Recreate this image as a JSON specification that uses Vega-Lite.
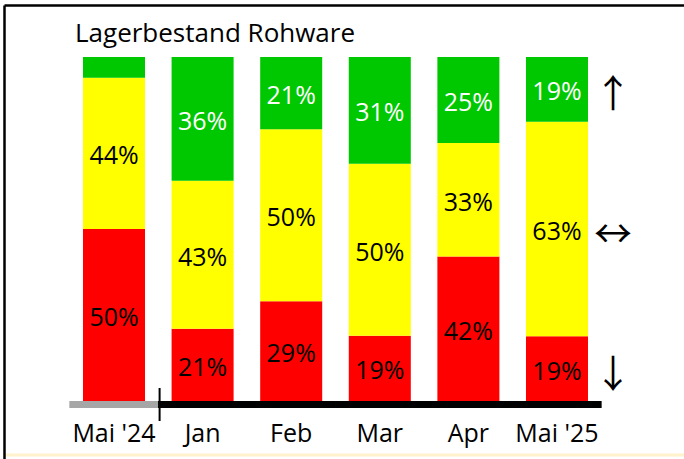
{
  "$schema": "https://vega.github.io/schema/vega-lite/v6.json",
  "width": 680,
  "height": 454,
  "autosize": {"type": "none"},
  "padding": {"left": 4, "top": 5, "right": 0, "bottom": 0},
  "background": "white",
  "config": {"view": {"stroke": null}, "font": "Open Sans"},
  "title": {
    "text": "Lagerbestand Rohware",
    "anchor": "start",
    "frame": "group",
    "dx": 71,
    "offset": -63,
    "baseline": "alphabetic",
    "fontSize": 26,
    "fontWeight": "normal",
    "font": "Open Sans",
    "color": "black"
  },
  "datasets": {
    "bestand": [
      {"monat": "Mai '24", "stufe": "rot", "wert": 50},
      {"monat": "Mai '24", "stufe": "gelb", "wert": 44},
      {"monat": "Mai '24", "stufe": "grün", "wert": 6},
      {"monat": "Jan", "stufe": "rot", "wert": 21},
      {"monat": "Jan", "stufe": "gelb", "wert": 43},
      {"monat": "Jan", "stufe": "grün", "wert": 36},
      {"monat": "Feb", "stufe": "rot", "wert": 29},
      {"monat": "Feb", "stufe": "gelb", "wert": 50},
      {"monat": "Feb", "stufe": "grün", "wert": 21},
      {"monat": "Mar", "stufe": "rot", "wert": 19},
      {"monat": "Mar", "stufe": "gelb", "wert": 50},
      {"monat": "Mar", "stufe": "grün", "wert": 31},
      {"monat": "Apr", "stufe": "rot", "wert": 42},
      {"monat": "Apr", "stufe": "gelb", "wert": 33},
      {"monat": "Apr", "stufe": "grün", "wert": 25},
      {"monat": "Mai '25", "stufe": "rot", "wert": 19},
      {"monat": "Mai '25", "stufe": "gelb", "wert": 63},
      {"monat": "Mai '25", "stufe": "grün", "wert": 19}
    ]
  },
  "data": {"name": "bestand"},
  "transform": [
    {"calculate": "datum.stufe === 'rot' ? 0 : (datum.stufe === 'gelb' ? 1 : 2)", "as": "rang"}
  ],
  "resolve": {"axis": {"x": "independent"}},
  "layer": [
    {
      "mark": {"type": "bar", "opacity": 1},
      "encoding": {
        "x": {
          "field": "monat", "type": "nominal",
          "scale": {"domain": ["Mai '24", "Jan", "Feb", "Mar", "Apr", "Mai '25"], "paddingInner": 0.3, "paddingOuter": 0.9876, "align": 0.4514, "round": false},
          "axis": {"orient": "bottom", "offset": -4.5, "domain": true, "domainColor": "#FFF2CC", "domainWidth": 3, "ticks": false, "grid": false, "labelPadding": -13, "labelBaseline": "alphabetic", "labelFontSize": 25, "labelFont": "Open Sans", "labelColor": "black", "labelAngle": 0, "title": null}
        },
        "y": {
          "field": "wert", "type": "quantitative", "stack": "normalize",
          "scale": {"domain": [-0.1686, 1.1512], "nice": false, "zero": false},
          "axis": {"orient": "left", "domain": true, "domainColor": "black", "domainWidth": 2.5, "labels": false, "ticks": false, "grid": false, "title": null}
        },
        "order": {"field": "rang", "type": "quantitative"},
        "color": {
          "field": "stufe", "type": "nominal",
          "scale": {"domain": ["rot", "gelb", "grün"], "range": ["#FF0000", "#FFFF00", "#00C800"]},
          "legend": null
        }
      }
    },
    {
      "transform": [{"calculate": "datum.wert + '%'", "as": "beschriftung"}],
      "mark": {"type": "text", "fontSize": 25, "font": "Open Sans", "baseline": "middle", "align": "center", "dy": 3},
      "encoding": {
        "x": {"field": "monat", "type": "nominal", "scale": {"domain": ["Mai '24", "Jan", "Feb", "Mar", "Apr", "Mai '25"], "paddingInner": 0.3, "paddingOuter": 0.9876, "align": 0.4514, "round": false}, "axis": null},
        "y": {"field": "wert", "type": "quantitative", "stack": "normalize", "bandPosition": 0.5, "scale": {"domain": [-0.1686, 1.1512], "nice": false, "zero": false},
          "axis": {"orient": "left", "domain": true, "domainColor": "black", "domainWidth": 2.5, "labels": false, "ticks": false, "grid": false, "title": null}},
        "order": {"field": "rang", "type": "quantitative"},
        "text": {"condition": {"test": "datum.wert < 10", "value": ""}, "field": "beschriftung", "type": "nominal"},
        "color": {"condition": {"test": "datum.stufe === 'grün'", "value": "white"}, "value": "black"}
      }
    },
    {
      "transform": [
        {"filter": "datum.monat === \"Mai '25\""},
        {"calculate": "datum.stufe === 'rot' ? '↓' : (datum.stufe === 'gelb' ? '↔' : '↑')", "as": "pfeil"}
      ],
      "mark": {"type": "text", "fontSize": 38, "font": "Noto Sans CJK JP", "baseline": "middle", "align": "center", "dx": 56, "dy": 7, "color": "black"},
      "encoding": {
        "x": {"field": "monat", "type": "nominal", "scale": {"domain": ["Mai '24", "Jan", "Feb", "Mar", "Apr", "Mai '25"], "paddingInner": 0.3, "paddingOuter": 0.9876, "align": 0.4514, "round": false}, "axis": null},
        "y": {"field": "wert", "type": "quantitative", "stack": "normalize", "bandPosition": 0.5, "scale": {"domain": [-0.1686, 1.1512], "nice": false, "zero": false},
          "axis": {"orient": "left", "domain": true, "domainColor": "black", "domainWidth": 2.5, "labels": false, "ticks": false, "grid": false, "title": null}},
        "order": {"field": "rang", "type": "quantitative"},
        "text": {"field": "pfeil", "type": "nominal"}
      }
    },
    {
      "mark": {"type": "tick", "orient": "horizontal", "size": 88.6, "thickness": 7, "yOffset": 3.5, "opacity": 1},
      "encoding": {
        "x": {
          "field": "monat", "type": "nominal",
          "scale": {"domain": ["Mai '24", "Jan", "Feb", "Mar", "Apr", "Mai '25"], "paddingInner": 0.3, "paddingOuter": 0.9876, "align": 0.4514, "round": false},
          "axis": {"orient": "top", "domain": true, "domainColor": "black", "domainWidth": 2.5, "labels": false, "ticks": false, "grid": false, "title": null}
        },
        "y": {"datum": 0, "type": "quantitative", "scale": {"domain": [-0.1686, 1.1512], "nice": false, "zero": false},
          "axis": {"orient": "left", "domain": true, "domainColor": "black", "domainWidth": 2.5, "labels": false, "ticks": false, "grid": false, "title": null}},
        "color": {"condition": {"test": "datum.monat === \"Mai '24\"", "value": "#A6A6A6"}, "value": "black"}
      }
    },
    {
      "data": {"values": [{"monat": "Jan"}]},
      "mark": {"type": "tick", "orient": "vertical", "size": 33, "thickness": 2, "xOffset": -43, "yOffset": 3.5, "opacity": 1, "color": "black"},
      "encoding": {
        "x": {"field": "monat", "type": "nominal", "scale": {"domain": ["Mai '24", "Jan", "Feb", "Mar", "Apr", "Mai '25"], "paddingInner": 0.3, "paddingOuter": 0.9876, "align": 0.4514, "round": false}, "axis": null},
        "y": {"datum": 0, "type": "quantitative", "scale": {"domain": [-0.1686, 1.1512], "nice": false, "zero": false},
          "axis": {"orient": "left", "domain": true, "domainColor": "black", "domainWidth": 2.5, "labels": false, "ticks": false, "grid": false, "title": null}}
      }
    }
  ]
}
